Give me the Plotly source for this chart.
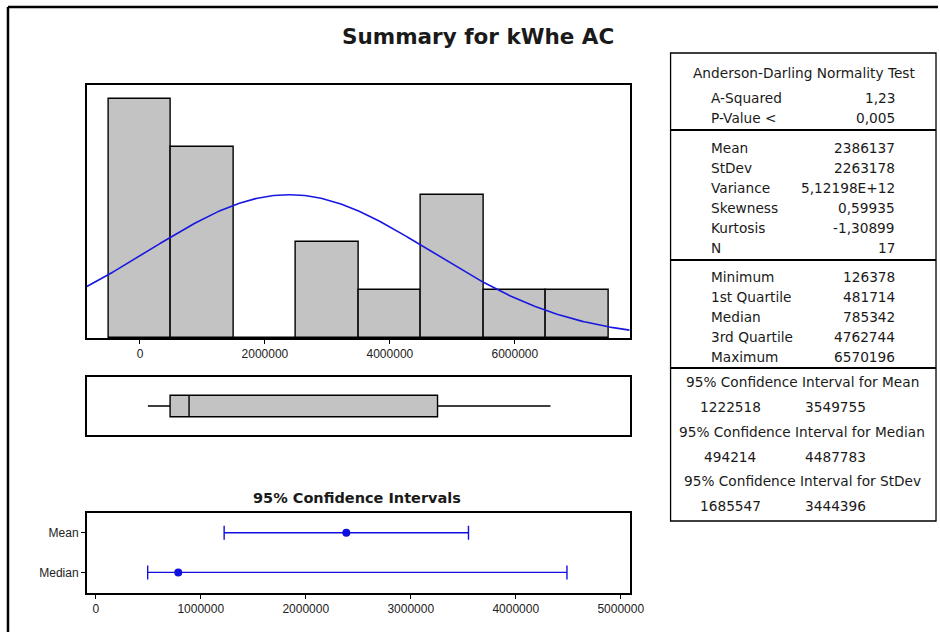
import plotly.graph_objects as go
import numpy as np

# histogram of kWhe AC (bin centres, counts)
bin_centers = [0, 1000000, 2000000, 3000000, 4000000, 5000000, 6000000, 7000000]
bin_counts = [5, 4, 0, 2, 1, 3, 1, 1]
bin_width = 1000000

# descriptive statistics
mean = 2386137
stdev = 2263178
n_obs = 17
minimum = 126378
q1 = 481714
median = 785342
q3 = 4762744
maximum = 6570196

# 95% confidence intervals
ci_labels = ["Mean", "Median"]
ci_points = [2386137, 785342]
ci_low = [1222518, 494214]
ci_high = [3549755, 4487783]

# stats table text
ad_rows = [("A-Squared", "1,23"), ("P-Value <", "0,005")]
moment_rows = [("Mean", "2386137"), ("StDev", "2263178"), ("Variance", "5,12198E+12"),
               ("Skewness", "0,59935"), ("Kurtosis", "-1,30899"), ("N", "17")]
quart_rows = [("Minimum", "126378"), ("1st Quartile", "481714"), ("Median", "785342"),
              ("3rd Quartile", "4762744"), ("Maximum", "6570196")]
ci_rows = [("95% Confidence Interval for Mean", "1222518", "3549755"),
           ("95% Confidence Interval for Median", "494214", "4487783"),
           ("95% Confidence Interval for StDev", "1685547", "3444396")]

# the photographed strip is a little wider than the window, so the figure is made
# that wide and placed in window pixels (x / 940)
W, H = 953, 632
FONT = "DejaVu Sans"
TICKFONT = "Liberation Sans"


def px(x):
    return x / 940


def py(y):
    return 1 - y / H


hist_range = [-851000, 7838000]
ci_range = [-85500, 5085000]

fig = go.Figure()

fig.add_trace(go.Bar(x=bin_centers, y=bin_counts, width=bin_width,
                     marker=dict(color="#c3c3c3", line=dict(color="black", width=1.4)),
                     xaxis="x", yaxis="y", hoverinfo="skip"))

# fitted normal curve from mean and stdev
xs = np.linspace(hist_range[0], hist_range[1], 300)
ys = n_obs * bin_width * np.exp(-0.5 * ((xs - mean) / stdev) ** 2) / (stdev * np.sqrt(2 * np.pi))
fig.add_trace(go.Scatter(x=xs, y=ys, mode="lines", line=dict(color="#1818e0", width=1.6),
                         xaxis="x", yaxis="y", hoverinfo="skip"))

fig.add_trace(go.Box(y=[0], q1=[q1], median=[median], q3=[q3],
                     lowerfence=[minimum], upperfence=[maximum],
                     orientation="h", width=0.74, whiskerwidth=0,
                     fillcolor="#c3c3c3", line=dict(color="black", width=1.4),
                     xaxis="x2", yaxis="y2", hoverinfo="skip"))

fig.add_trace(go.Scatter(x=ci_points, y=[1, 0], mode="markers",
                         marker=dict(color="#1010e0", size=8),
                         error_x=dict(type="data", symmetric=False,
                                      array=[h - p for h, p in zip(ci_high, ci_points)],
                                      arrayminus=[p - l for p, l in zip(ci_points, ci_low)],
                                      color="#1010e0", thickness=1.4, width=7),
                         xaxis="x3", yaxis="y3", hoverinfo="skip"))

frame = dict(showline=True, linecolor="black", linewidth=1.6, mirror=True,
             showgrid=False, zeroline=False)
tickfont = dict(family=TICKFONT, size=12, color="#222222")

fig.update_layout(
    width=W, height=H,
    margin=dict(l=0, r=0, t=0, b=0),
    paper_bgcolor="white", plot_bgcolor="white",
    showlegend=False,
    bargap=0,
    font=dict(family=FONT, color="#1a1a1a"),
    xaxis=dict(domain=[px(87), px(631)], range=hist_range, tickvals=[0, 2000000, 4000000, 6000000],
               tickformat="d", ticks="outside", ticklen=4, tickcolor="black",
               tickfont=tickfont, **frame),
    yaxis=dict(domain=[py(338), py(85)], range=[0, 5.29], showticklabels=False, ticks="", **frame),
    xaxis2=dict(domain=[px(87), px(631)], range=hist_range, showticklabels=False, ticks="",
                anchor="y2", **frame),
    yaxis2=dict(domain=[py(435), py(377)], range=[-1, 1], showticklabels=False, ticks="",
                anchor="x2", **frame),
    xaxis3=dict(domain=[px(87), px(631)], range=ci_range,
                tickvals=[0, 1000000, 2000000, 3000000, 4000000, 5000000],
                tickformat="d", ticks="outside", ticklen=4, tickcolor="black",
                tickfont=tickfont, anchor="y3", **frame),
    yaxis3=dict(domain=[py(593), py(513)], range=[-0.52, 1.5], tickvals=[1, 0], ticktext=ci_labels,
                ticks="outside", ticklen=4, tickcolor="black",
                tickfont=tickfont, anchor="x3", **frame),
)

shapes = []
# outer frame: only the left and top edges are inside the window
shapes.append(dict(type="line", xref="paper", yref="paper", x0=px(8), x1=1, y0=py(7), y1=py(7),
                   line=dict(color="black", width=2.5)))
shapes.append(dict(type="line", xref="paper", yref="paper", x0=px(8), x1=px(8), y0=0, y1=py(7),
                   line=dict(color="black", width=2.5)))
# stats table
shapes.append(dict(type="rect", xref="paper", yref="paper", x0=px(672), x1=px(938), y0=py(521), y1=py(53),
                   line=dict(color="black", width=1.3)))
for yy in [130, 260, 368]:
    shapes.append(dict(type="line", xref="paper", yref="paper", x0=px(672), x1=px(938), y0=py(yy), y1=py(yy),
                       line=dict(color="black", width=2)))

annotations = []


def text(x, y, s, anchor="left", size=13.7, bold=False):
    annotations.append(dict(xref="paper", yref="paper", x=px(x), y=py(y), text="<b>%s</b>" % s if bold else s,
                            showarrow=False, xanchor=anchor, yanchor="middle",
                            font=dict(family=FONT, size=size, color="#1a1a1a")))


text(479, 37, "Summary for kWhe AC", "center", 21.5, True)
text(358, 498, "95% Confidence Intervals", "center", 14.5, True)

text(806, 73, "Anderson-Darling Normality Test", "center")
for i, (lab, val) in enumerate(ad_rows):
    yy = 98 + i * 20
    text(711, yy, lab)
    text(899, yy, val, "right")
for i, (lab, val) in enumerate(moment_rows):
    yy = 148 + i * 20
    text(711, yy, lab)
    text(899, yy, val, "right")
for i, (lab, val) in enumerate(quart_rows):
    yy = 277 + i * 20
    text(711, yy, lab)
    text(899, yy, val, "right")
for i, (head, lo, hi) in enumerate(ci_rows):
    yy = 382 + i * 49.5
    text(804, yy, head, "center")
    text(732, yy + 25, lo, "center")
    text(837, yy + 25, hi, "center")

fig.update_layout(shapes=shapes, annotations=annotations)

# drop the default page margin so the figure sits at the window's top-left corner
post = ("document.documentElement.style.overflow='hidden';"
        "document.body.style.margin='0';document.body.style.overflow='hidden';")

fig.write_html("out.html", post_script=post, config={"displayModeBar": False})
